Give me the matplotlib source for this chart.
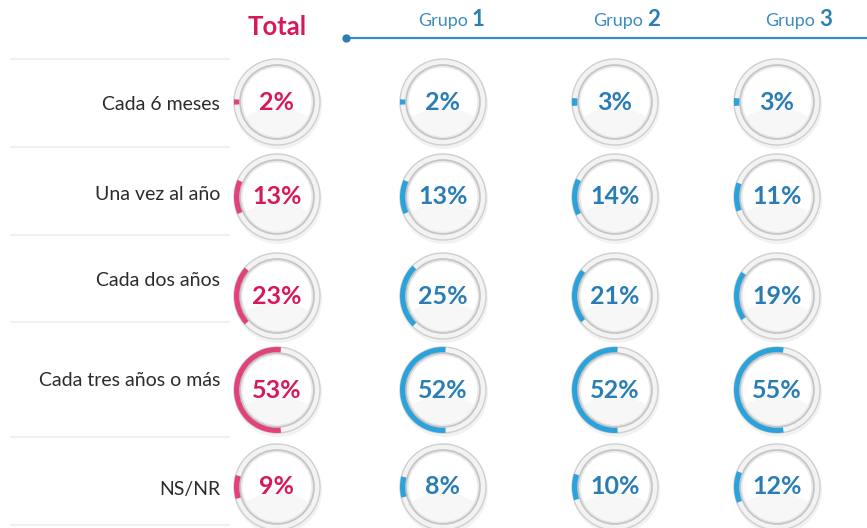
import numpy as np
import matplotlib.pyplot as plt
from matplotlib.patches import Wedge, Circle, Ellipse

# data
rows = ['Cada 6 meses', 'Una vez al año', 'Cada dos años', 'Cada tres años o más', 'NS/NR']
groups = ['Total', '1', '2', '3']
total = [2, 13, 23, 53, 9]
grupo1 = [2, 13, 25, 52, 8]
grupo2 = [3, 14, 21, 52, 10]
grupo3 = [3, 11, 19, 55, 12]
values = [total, grupo1, grupo2, grupo3]

# layout (pixel space)
W, H = 867, 528
col_x = [277, 443, 615, 777]
hdr_x = [470, 645, 817]
row_y = [102, 197, 296, 390, 487]
lab_y = [104, 195, 281, 381, 490]
sep_y = [59, 147, 235, 322, 437, 525]
R = 43

pink_arc = '#E2427B'
pink_txt = '#D6185C'
blue_arc = '#2AA3DC'
blue_txt = '#2A7DB4'
hdr_blue = '#3A8CC1'

plt.rcParams['font.family'] = ['Lato', 'DejaVu Sans']

fig = plt.figure(figsize=(W / 100, H / 100), dpi=100)
ax = fig.add_axes([0, 0, 1, 1])
ax.set_xlim(0, W)
ax.set_ylim(H, 0)
ax.set_aspect('equal')
ax.axis('off')

# separators and row labels
for y in sep_y:
  ax.plot([10, 230], [y, y], color='#EEEEEE', lw=1.2, solid_capstyle='butt')
for lab, y in zip(rows, lab_y):
  ax.text(220, y, lab, ha='right', va='center', fontsize=14, color='#2B2B2B')

# headers
ax.text(col_x[0], 27, 'Total', ha='center', va='center', fontsize=18.5,
        fontweight='bold', color=pink_txt)
for g, x in zip(groups[1:], hdr_x):
  ax.text(x - 2, 21, 'Grupo', ha='right', va='center', fontsize=13, color=hdr_blue)
  ax.text(x + 2, 20, g, ha='left', va='center', fontsize=16, fontweight='bold',
          color='#2A7FB3')
ax.plot([346, W], [38, 38], color=hdr_blue, lw=1.6)
ax.plot([346], [38], 'o', color='#2A7FB3', ms=5)

# rings
for j, (x, vals) in enumerate(zip(col_x, values)):
  arc_c = pink_arc if j == 0 else blue_arc
  txt_c = pink_txt if j == 0 else blue_txt
  for y, v in zip(row_y, vals):
    ax.add_patch(Ellipse((x + 1, y + 3), 2 * R + 2, 2 * R + 2, color='#000000',
                         alpha=0.05, lw=0))
    ax.add_patch(Circle((x, y), R, facecolor='#F3F3F3', edgecolor='#CFCFCF', lw=1.0))
    span = v / 100 * 360
    ax.add_patch(Wedge((x, y), R, 180 - span / 2, 180 + span / 2, width=7,
                       facecolor=arc_c, edgecolor='none'))
    ax.add_patch(Circle((x, y), R - 6, facecolor='#E8E8E8', edgecolor='#C4C4C4', lw=1.2))
    ax.add_patch(Circle((x, y), R - 8.5, facecolor='#FFFFFF', edgecolor='none'))
    ax.add_patch(Wedge((x, y), R - 8.5, 25, 155, facecolor='#F7F7F7', edgecolor='none'))
    ax.text(x, y, '{}%'.format(v), ha='center', va='center', fontsize=18,
            fontweight='bold', color=txt_c)

fig.savefig('out.png', dpi=100)
